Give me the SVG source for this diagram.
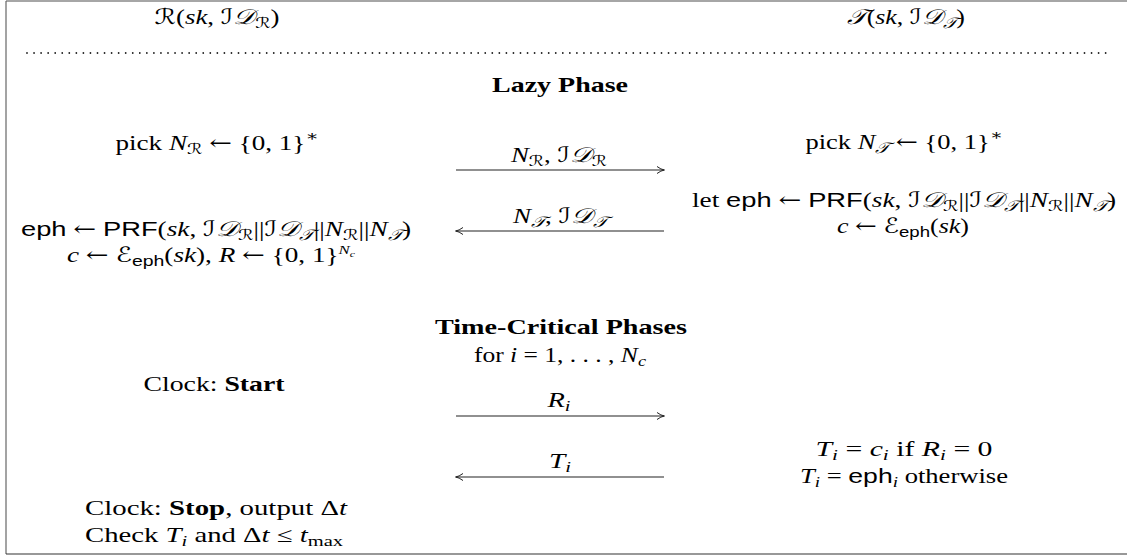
<svg xmlns="http://www.w3.org/2000/svg" width="1127" height="556" viewBox="0 0 1127 556">
<style>
.t{font-family:"Liberation Serif","DejaVu Serif",serif;font-size:21px;fill:#000;text-anchor:middle}
.l{text-anchor:start}
.i{font-style:italic}
.s{font-family:"Liberation Sans","DejaVu Sans",sans-serif;font-style:normal}
.b{font-weight:bold}
.c{font-family:"DejaVu Serif","DejaVu Sans",serif;font-style:italic}
.ar{font-family:"DejaVu Serif","DejaVu Sans",serif;font-style:normal}
.sub{font-size:15px}
.conn{stroke:#222;stroke-width:1.1;fill:none}
</style>
<defs>
<marker id="ah" viewBox="0 0 10 10" refX="9" refY="5" markerWidth="10" markerHeight="10" markerUnits="userSpaceOnUse" orient="auto-start-reverse">
<path d="M2,1.5 Q6,4.5 9.5,5 Q6,5.5 2,8.5" stroke="#222" stroke-width="1" fill="none"/>
</marker>
</defs>
<rect width="1127" height="556" fill="#fff"/>
<g id="frame">
<line x1="6" y1="1" x2="1127" y2="1" stroke="#888" stroke-width="1.5"/>
<line x1="6" y1="1" x2="6" y2="554" stroke="#666" stroke-width="1.2"/>
<line x1="6" y1="554" x2="1127" y2="554" stroke="#333" stroke-width="1.2"/>
<line x1="27" y1="53" x2="1110" y2="53" stroke="#222" stroke-width="1.8" stroke-linecap="round" stroke-dasharray="0 7.05"/>
</g>
<g id="header-R"><text class="t" x="217" y="24" textLength="125" lengthAdjust="spacingAndGlyphs"><tspan class="c">ℛ</tspan>(<tspan class="i">sk</tspan>, <tspan class="c">ℐ𝒟</tspan><tspan class="c sub" dy="4">ℛ</tspan><tspan dy="-4">)</tspan></text></g>
<g id="header-T"><text class="t" x="906" y="24" textLength="118" lengthAdjust="spacingAndGlyphs"><tspan class="c">𝒯</tspan>(<tspan class="i">sk</tspan>, <tspan class="c">ℐ𝒟</tspan><tspan class="c sub" dy="4">𝒯</tspan><tspan dy="-4">)</tspan></text></g>
<g id="lazy-title"><text class="t b" x="560" y="92" textLength="136" lengthAdjust="spacingAndGlyphs">Lazy Phase</text></g>
<g id="pick-R"><text class="t" x="217" y="150" textLength="203" lengthAdjust="spacingAndGlyphs">pick <tspan class="i">N</tspan><tspan class="c sub" dy="4">ℛ</tspan><tspan dy="-4"> </tspan><tspan class="ar">←</tspan> {0, 1}<tspan class="sub" dy="-9">∗</tspan></text></g>
<g id="pick-T"><text class="t" x="904" y="149" textLength="197" lengthAdjust="spacingAndGlyphs">pick <tspan class="i">N</tspan><tspan class="c sub" dy="4">𝒯</tspan><tspan dy="-4"> </tspan><tspan class="ar">←</tspan> {0, 1}<tspan class="sub" dy="-9">∗</tspan></text></g>
<g id="R-compute">
<text class="t" x="216" y="236" textLength="390" lengthAdjust="spacingAndGlyphs"><tspan class="s">eph</tspan> <tspan class="ar">←</tspan> <tspan class="s">PRF</tspan>(<tspan class="i">sk</tspan>, <tspan class="c">ℐ𝒟</tspan><tspan class="c sub" dy="4">ℛ</tspan><tspan dy="-4">||</tspan><tspan class="c">ℐ𝒟</tspan><tspan class="c sub" dy="4">𝒯</tspan><tspan dy="-4">||</tspan><tspan class="i">N</tspan><tspan class="c sub" dy="4">ℛ</tspan><tspan dy="-4">||</tspan><tspan class="i">N</tspan><tspan class="c sub" dy="4">𝒯</tspan><tspan dy="-4">)</tspan></text>
<text class="t" x="211" y="262" textLength="288" lengthAdjust="spacingAndGlyphs"><tspan class="i">c</tspan> <tspan class="ar">←</tspan> <tspan class="c">ℰ</tspan><tspan class="s sub" dy="4">eph</tspan><tspan dy="-4">(</tspan><tspan class="i">sk</tspan>), <tspan class="i">R</tspan> <tspan class="ar">←</tspan> {0, 1}<tspan class="i" font-size="13" dy="-8">N</tspan><tspan class="i" font-size="9" dy="3">c</tspan></text>
</g>
<g id="T-compute">
<text class="t" x="904" y="207" textLength="424" lengthAdjust="spacingAndGlyphs">let <tspan class="s">eph</tspan> <tspan class="ar">←</tspan> <tspan class="s">PRF</tspan>(<tspan class="i">sk</tspan>, <tspan class="c">ℐ𝒟</tspan><tspan class="c sub" dy="4">ℛ</tspan><tspan dy="-4">||</tspan><tspan class="c">ℐ𝒟</tspan><tspan class="c sub" dy="4">𝒯</tspan><tspan dy="-4">||</tspan><tspan class="i">N</tspan><tspan class="c sub" dy="4">ℛ</tspan><tspan dy="-4">||</tspan><tspan class="i">N</tspan><tspan class="c sub" dy="4">𝒯</tspan><tspan dy="-4">)</tspan></text>
<text class="t" x="903" y="233" textLength="132" lengthAdjust="spacingAndGlyphs"><tspan class="i">c</tspan> <tspan class="ar">←</tspan> <tspan class="c">ℰ</tspan><tspan class="s sub" dy="4">eph</tspan><tspan dy="-4">(</tspan><tspan class="i">sk</tspan>)</text>
</g>
<g id="tc-title">
<text class="t b" x="561" y="334" textLength="252" lengthAdjust="spacingAndGlyphs">Time-Critical Phases</text>
<text class="t" x="560" y="362" textLength="172" lengthAdjust="spacingAndGlyphs">for <tspan class="i">i</tspan> = 1, . . . , <tspan class="i">N</tspan><tspan class="i sub" dy="4">c</tspan></text>
</g>
<g id="clock-start"><text class="t" x="214" y="391" textLength="141" lengthAdjust="spacingAndGlyphs">Clock: <tspan class="b">Start</tspan></text></g>
<g id="T-response">
<text class="t" x="904" y="456" textLength="177" lengthAdjust="spacingAndGlyphs"><tspan class="i">T</tspan><tspan class="i sub" dy="4">i</tspan><tspan dy="-4"> = </tspan><tspan class="i">c</tspan><tspan class="i sub" dy="4">i</tspan><tspan dy="-4"> if </tspan><tspan class="i">R</tspan><tspan class="i sub" dy="4">i</tspan><tspan dy="-4"> = 0</tspan></text>
<text class="t" x="904" y="483" textLength="208" lengthAdjust="spacingAndGlyphs"><tspan class="i">T</tspan><tspan class="i sub" dy="4">i</tspan><tspan dy="-4"> = </tspan><tspan class="s">eph</tspan><tspan class="i sub" dy="4">i</tspan><tspan dy="-4"> otherwise</tspan></text>
</g>
<g id="R-check">
<text class="t l" x="85" y="515" textLength="262" lengthAdjust="spacingAndGlyphs">Clock: <tspan class="b">Stop</tspan>, output Δ<tspan class="i">t</tspan></text>
<text class="t l" x="85" y="542" textLength="258" lengthAdjust="spacingAndGlyphs">Check <tspan class="i">T</tspan><tspan class="i sub" dy="4">i</tspan><tspan dy="-4"> and Δ</tspan><tspan class="i">t</tspan> ≤ <tspan class="i">t</tspan><tspan class="sub" dy="4">max</tspan></text>
</g>
<g id="connectors">
<line class="conn" x1="456" y1="170" x2="664" y2="170" marker-end="url(#ah)"/>
<text class="t" x="559" y="162" textLength="96" lengthAdjust="spacingAndGlyphs"><tspan class="i">N</tspan><tspan class="c sub" dy="4">ℛ</tspan><tspan dy="-4">, </tspan><tspan class="c">ℐ𝒟</tspan><tspan class="c sub" dy="4">ℛ</tspan></text>
<line class="conn" x1="456" y1="231" x2="664" y2="231" marker-start="url(#ah)"/>
<text class="t" x="560" y="223" textLength="94" lengthAdjust="spacingAndGlyphs"><tspan class="i">N</tspan><tspan class="c sub" dy="4">𝒯</tspan><tspan dy="-4">, </tspan><tspan class="c">ℐ𝒟</tspan><tspan class="c sub" dy="4">𝒯</tspan></text>
<line class="conn" x1="456" y1="416" x2="664" y2="416" marker-end="url(#ah)"/>
<text class="t" x="559" y="407" textLength="23" lengthAdjust="spacingAndGlyphs"><tspan class="i">R</tspan><tspan class="i sub" dy="4">i</tspan></text>
<line class="conn" x1="456" y1="477" x2="664" y2="477" marker-start="url(#ah)"/>
<text class="t" x="560" y="468" textLength="22" lengthAdjust="spacingAndGlyphs"><tspan class="i">T</tspan><tspan class="i sub" dy="4">i</tspan></text>
</g>
</svg>
